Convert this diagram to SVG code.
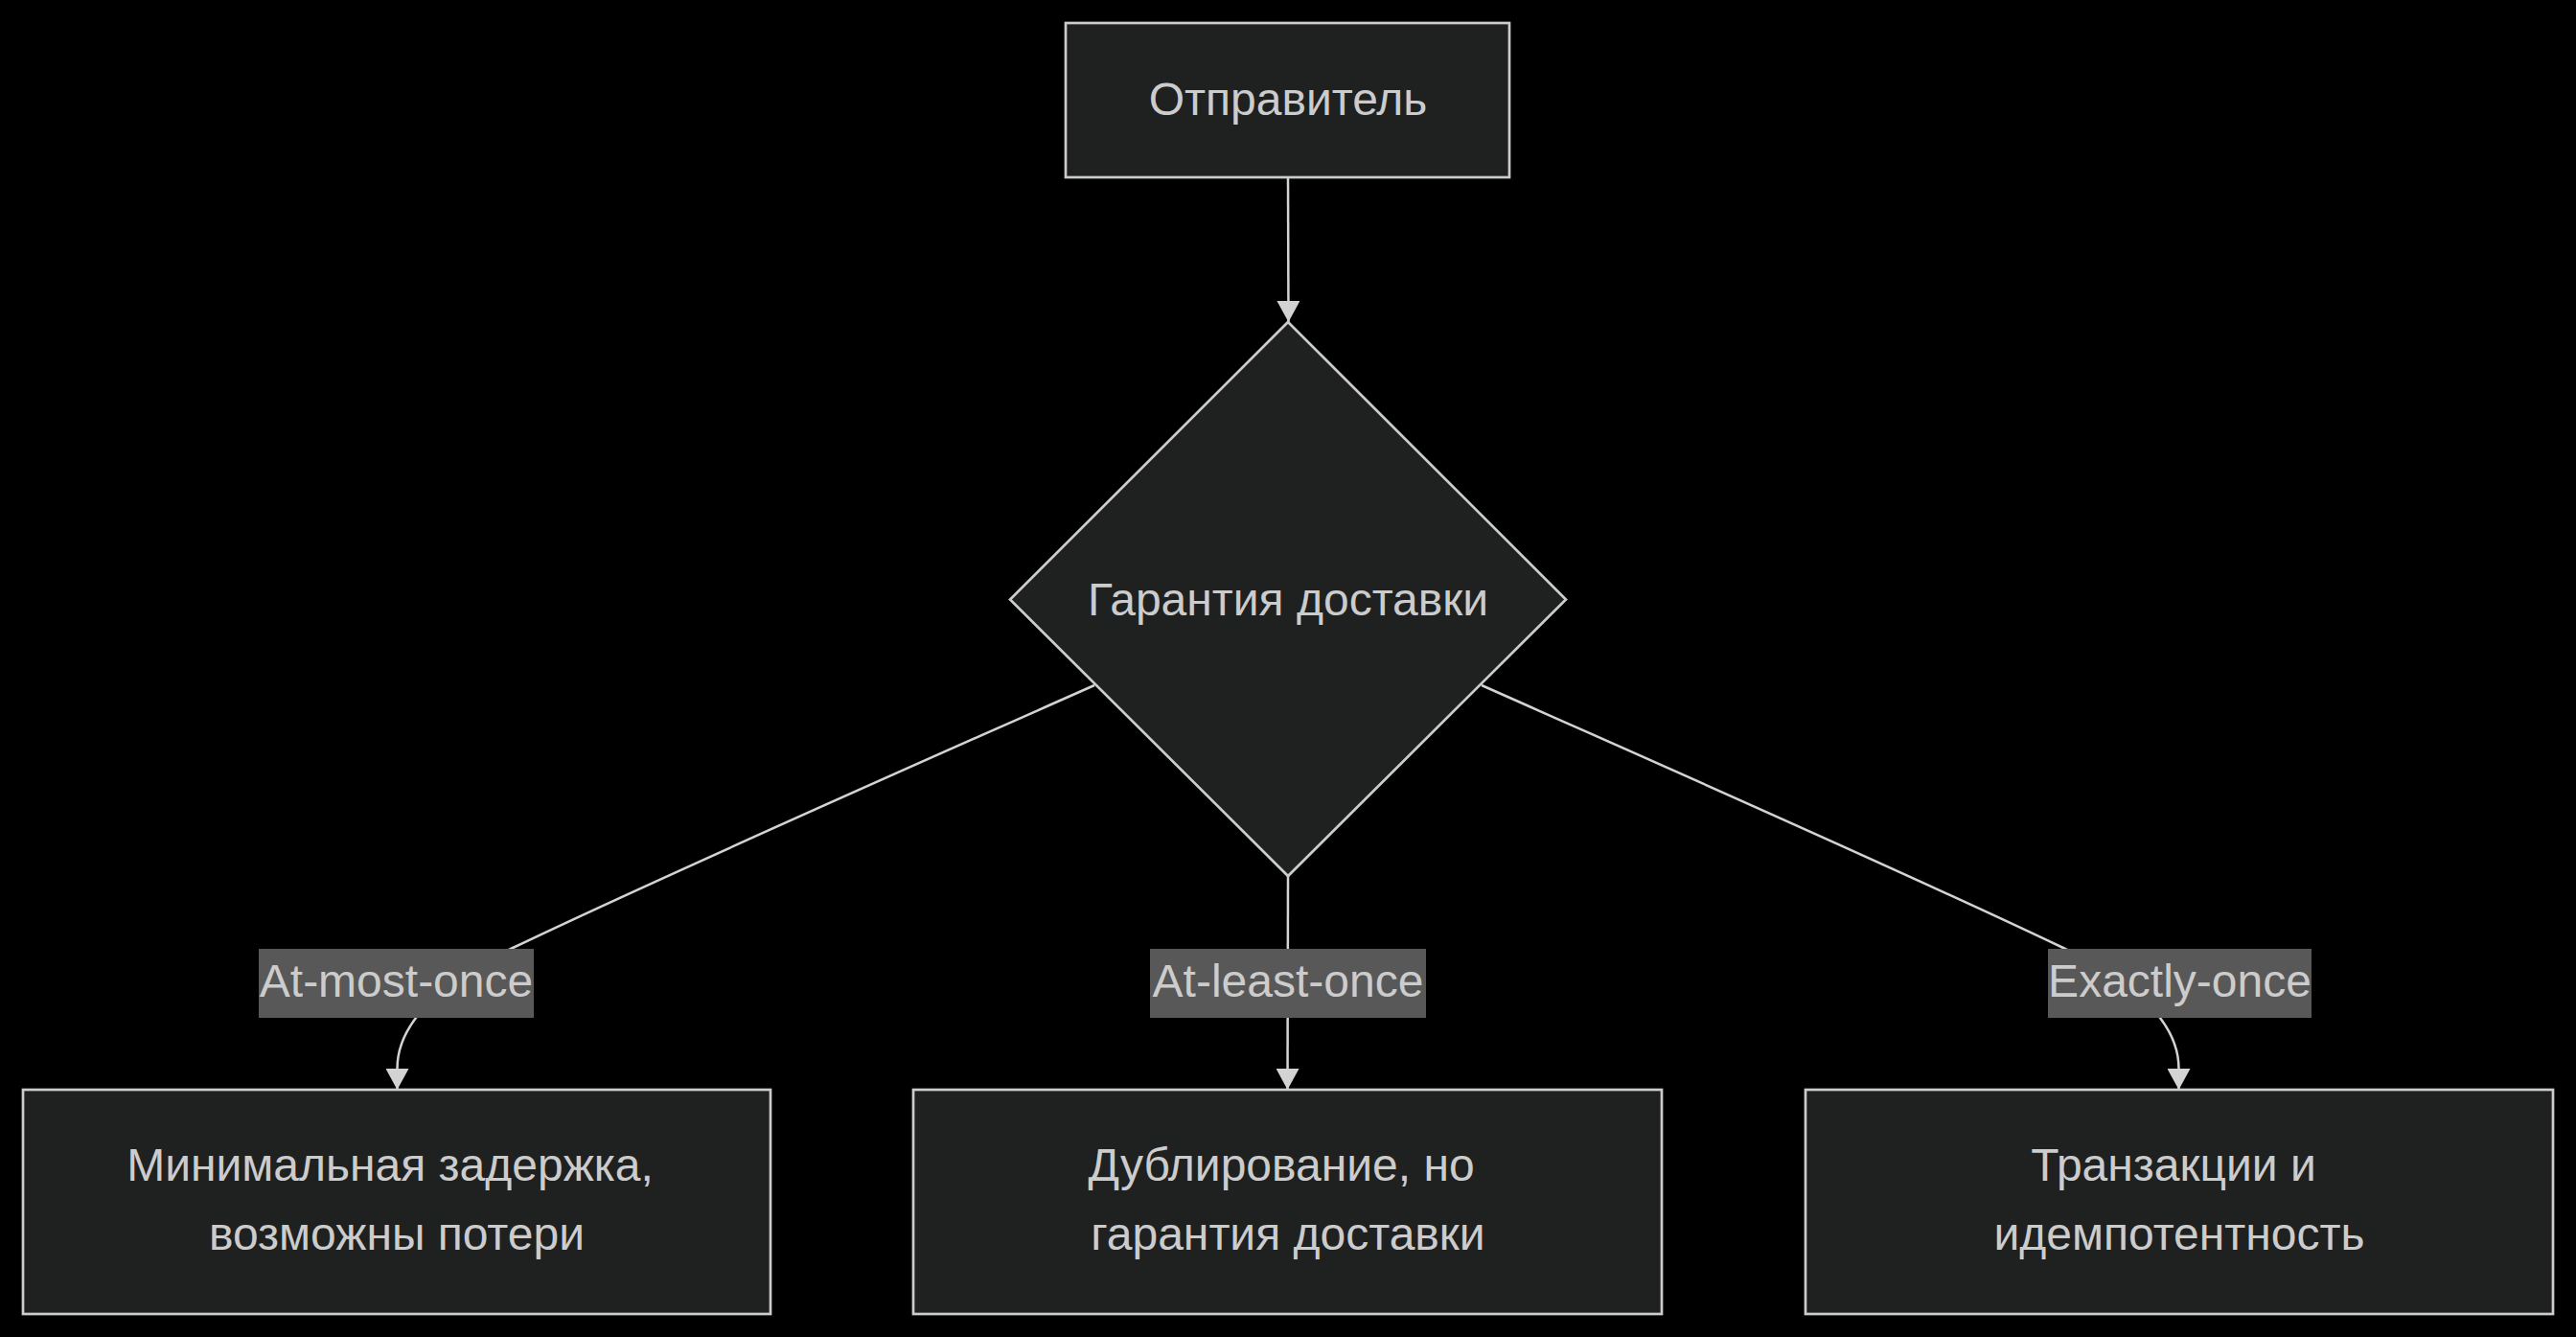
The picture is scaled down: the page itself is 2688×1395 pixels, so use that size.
<svg xmlns="http://www.w3.org/2000/svg" width="2688" height="1395" viewBox="0 0 2688 1395">
<style>
.node{fill:#1f2020;stroke:#cccccc;stroke-width:2.7}
.t{font-family:"Liberation Sans",Arial,sans-serif;font-size:48px;fill:#cccccc;text-anchor:middle}
.edge{fill:none;stroke:#d3d3d3;stroke-width:2.5}
.lbl{fill:#585858}
</style>
<defs>
<marker id="arr" viewBox="0 0 22 24" refX="22" refY="12" markerWidth="22" markerHeight="24" markerUnits="userSpaceOnUse" orient="auto">
<path d="M0,0 L22,12 L0,24 z" fill="#d3d3d3"/>
</marker>
</defs>
<rect x="0" y="0" width="2688" height="1395" fill="#000000"/>
<g id="connectors">
<path class="edge" d="M1344,185 L1344.5,336" marker-end="url(#arr)"/>
<path class="edge" d="M1142,715 C1000,778 700,910 535,989 C475,1018 414.5,1060 414.5,1115 L414.5,1137" marker-end="url(#arr)"/>
<path class="edge" d="M1344,914 L1343.5,1137" marker-end="url(#arr)"/>
<path class="edge" d="M1546,715 C1688,778 1988,910 2153,989 C2213,1018 2273.5,1060 2273.5,1115 L2273.5,1137" marker-end="url(#arr)"/>
</g>
<g id="edge-labels">
<g id="label-at-most-once"><rect class="lbl" x="270" y="990" width="287" height="72"/><text class="t" x="413.5" y="1040">At-most-once</text></g>
<g id="label-at-least-once"><rect class="lbl" x="1200" y="990" width="288" height="72"/><text class="t" x="1344" y="1040">At-least-once</text></g>
<g id="label-exactly-once"><rect class="lbl" x="2137" y="990" width="275" height="72"/><text class="t" x="2274.5" y="1040">Exactly-once</text></g>
</g>
<g id="sender"><rect class="node" x="1112" y="24" width="463" height="161"/><text class="t" x="1344" y="120">Отправитель</text></g>
<g id="guarantee"><polygon class="node" points="1344,336 1634,625.5 1344,914 1054,625.5"/><text class="t" x="1344" y="642">Гарантия доставки</text></g>
<g id="at-most-once"><rect class="node" x="24" y="1137" width="780" height="234"/><text class="t" x="407" y="1232">Минимальная задержка,</text><text class="t" x="414" y="1304">возможны потери</text></g>
<g id="at-least-once"><rect class="node" x="953" y="1137" width="781" height="234"/><text class="t" x="1337" y="1232">Дублирование, но</text><text class="t" x="1344" y="1304">гарантия доставки</text></g>
<g id="exactly-once"><rect class="node" x="1884" y="1137" width="780" height="234"/><text class="t" x="2268" y="1232">Транзакции и</text><text class="t" x="2274" y="1304">идемпотентность</text></g>
</svg>
